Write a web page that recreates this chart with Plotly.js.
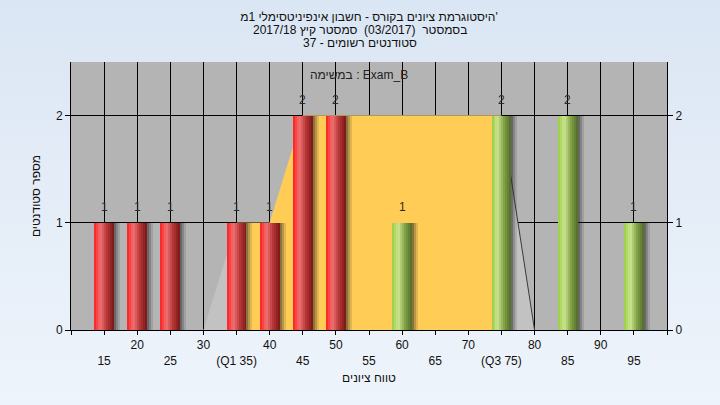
<!DOCTYPE html>
<html>
<head>
<meta charset="utf-8">
<script src="https://cdn.plot.ly/plotly-3.0.1.min.js"></script>
<style>
  html, body { margin: 0; padding: 0; }
  body { width: 720px; height: 405px; background: linear-gradient(to bottom, #dbe6f4 0%, #eef4fb 100%); }
  #chart { width: 720px; height: 405px; }
</style>
</head>
<body>
<div id="chart"></div>
<script>
// ---------------- data ----------------
const failBins   = [15, 20, 25, 35, 40, 45, 50];
const failCounts = [1, 1, 1, 1, 1, 2, 2];
const passBins   = [60, 75, 85, 95];
const passCounts = [1, 2, 2, 1];

const areaX = [30, 35, 40, 45, 50, 55, 60, 65, 70, 75, 80];
const areaY = [0, 1, 1, 2, 2, 2, 2, 2, 2, 2, 0];
const q1 = 35;
const q3 = 75;

const tickValues = [10, 15, 20, 25, 30, 35, 40, 45, 50, 55, 60, 65, 70, 75, 80, 85, 90, 95, 100];
const tickLabels = ["", "15", "20", "25", "30", "(Q1 35)", "40", "45", "50", "55", "60", "65", "70", "(Q3 75)", "80", "85", "90", "95", ""];
const yTickValues = [0, 1, 2];

const titleLine1 = "'היסטוגרמת ציונים בקורס - חשבון אינפיניטסימלי 1מ";
const titleLine2 = "בסמסטר  (03/2017)  סמסטר קיץ 2017/18";
const titleLine3 = "סטודנטים רשומים - 37";
const subTitle   = "במשימה : Exam_B";
const xTitle     = "טווח ציונים";
const yTitle     = "מספר סטודנטים";

// --------------- helpers ---------------
// right-to-left paragraph, as in the original
function rtl(s) { return '\u202B' + s + '\u202C'; }
function lerp(stops, t) {
  for (let i = 0; i < stops.length - 1; i++) {
    const [t0, c0] = stops[i], [t1, c1] = stops[i + 1];
    if (t >= t0 && t <= t1) {
      const f = (t - t0) / (t1 - t0);
      return 'rgb(' + c0.map((v, k) => Math.round(v + (c1[k] - v) * f)).join(',') + ')';
    }
  }
  return 'rgb(' + stops[stops.length - 1][1].join(',') + ')';
}

const FONT = 'Liberation Sans, Arial, DejaVu Sans, sans-serif';
const BARW = 3;
const N = 10;
const FAIL_STOPS = [[0, [255, 30, 30]], [0.32, [238, 114, 114]], [0.65, [182, 54, 54]], [1, [120, 22, 22]]];
const PASS_STOPS = [[0, [152, 206, 66]], [0.32, [204, 228, 144]], [0.65, [130, 162, 70]], [1, [80, 106, 40]]];
const SHADOW = [0.55, 0.33, 0.14];

const traces = [];

// background area (gray), then inter-quartile area (yellow) on the base layer
traces.push({
  type: 'scatter', mode: 'lines', x: areaX, y: areaY,
  fill: 'tozeroy', fillcolor: '#c2c2c2', line: { width: 0, color: '#c2c2c2' },
  hoverinfo: 'skip', showlegend: false
});
const iqX = [], iqY = [], tailX = [], tailY = [];
areaX.forEach((x, i) => {
  if (x >= q1 && x <= q3) { iqX.push(x); iqY.push(areaY[i]); }
  if (x >= q3) { tailX.push(x); tailY.push(areaY[i]); }
});
traces.push({
  type: 'scatter', mode: 'lines', x: iqX, y: iqY,
  fill: 'tozeroy', fillcolor: '#ffcc55', line: { width: 0, color: '#ffcc55' },
  hoverinfo: 'skip', showlegend: false
});
traces.push({
  type: 'scatter', mode: 'lines', x: tailX, y: tailY,
  line: { width: 1, color: '#3a3a3a' }, hoverinfo: 'skip', showlegend: false
});

// cylinder-like bars on the overlaid layer (drawn above the areas)
function cylinder(xs, ys, stops) {
  const sw = BARW / N;
  SHADOW.forEach((a, j) => {
    traces.push({
      type: 'bar', x: xs, y: ys, yaxis: 'y2', offset: BARW / 2 + j * sw, width: sw,
      marker: { color: 'rgba(40,40,40,' + a + ')', line: { width: 0 } },
      hoverinfo: 'skip', showlegend: false
    });
  });
  for (let i = 0; i < N; i++) {
    traces.push({
      type: 'bar', x: xs, y: ys, yaxis: 'y2', offset: -BARW / 2 + i * sw, width: sw,
      marker: { color: lerp(stops, (i + 0.5) / N), line: { width: 0 } },
      hoverinfo: 'skip', showlegend: false
    });
  }
}
cylinder(failBins, failCounts, FAIL_STOPS);
cylinder(passBins, passCounts, PASS_STOPS);

// value labels
const allBins = failBins.concat(passBins);
const allCounts = failCounts.concat(passCounts);
const labelAnn = allBins.map((b, i) => ({
  x: b, y: allCounts[i], xref: 'x', yref: 'y', text: String(allCounts[i]),
  showarrow: false, yanchor: 'bottom', yshift: 7,
  font: { family: FONT, size: 12, color: '#2a2a2a' }
}));

const ticktext = tickLabels.map((t, i) => (tickValues[i] % 10 === 5 ? '<br>' + t : t));

const plotL = 71, plotR = 667, plotT = 62, plotB = 330;
function px2paperX(px) { return (px - plotL) / (plotR - plotL); }
function px2paperY(py) { return (plotB - py) / (plotB - plotT); }

const yCommon = {
  range: [0, 2.5], tickvals: yTickValues, ticks: 'outside', ticklen: 5,
  tickcolor: '#000', showline: true, linecolor: '#000', linewidth: 1,
  zeroline: false, tickfont: { family: FONT, size: 12, color: '#111' }, fixedrange: true
};

const layout = {
  width: 720, height: 405,
  paper_bgcolor: 'rgba(0,0,0,0)', plot_bgcolor: '#b4b4b4',
  margin: { l: plotL, r: 720 - plotR, t: plotT, b: 405 - plotB, pad: 0 },
  barmode: 'overlay', bargap: 0,
  font: { family: FONT, size: 12, color: '#111' },
  title: {
    text: rtl(titleLine1), x: 0.5, xref: 'paper', xanchor: 'center',
    y: 1 - 17 / 405, yref: 'container', yanchor: 'middle',
    font: { family: FONT, size: 12, color: '#111' }
  },
  xaxis: {
    range: [10, 100], tickvals: tickValues, ticktext: ticktext, tickangle: 0,
    ticks: 'outside', ticklen: 4, tickcolor: '#000',
    showline: true, linecolor: '#000', linewidth: 1,
    showgrid: true, gridcolor: '#000', gridwidth: 1, zeroline: false,
    tickfont: { family: FONT, size: 12, color: '#111' },
    title: { text: rtl(xTitle), standoff: 6, font: { family: FONT, size: 12, color: '#111' } },
    fixedrange: true
  },
  yaxis: Object.assign({}, yCommon, {
    showgrid: true, gridcolor: '#000', gridwidth: 1,
    title: { text: rtl(yTitle), standoff: 12, font: { family: FONT, size: 12, color: '#111' } }
  }),
  yaxis2: Object.assign({}, yCommon, { overlaying: 'y', side: 'right', showgrid: false }),
  annotations: [
    { text: rtl(titleLine2), xref: 'paper', yref: 'paper', x: px2paperX(360), y: px2paperY(30),
      xanchor: 'center', yanchor: 'middle', showarrow: false, font: { family: FONT, size: 12, color: '#111' } },
    { text: rtl(titleLine3), xref: 'paper', yref: 'paper', x: px2paperX(360), y: px2paperY(43),
      xanchor: 'center', yanchor: 'middle', showarrow: false, font: { family: FONT, size: 12, color: '#111' } },
    { text: subTitle, xref: 'paper', yref: 'paper', x: px2paperX(359), y: px2paperY(75),
      xanchor: 'center', yanchor: 'middle', showarrow: false, font: { family: FONT, size: 12, color: '#222' } }
  ].concat(labelAnn),
  showlegend: false
};

Plotly.newPlot('chart', traces, layout, { staticPlot: true, displayModeBar: false });
</script>
</body>
</html>
